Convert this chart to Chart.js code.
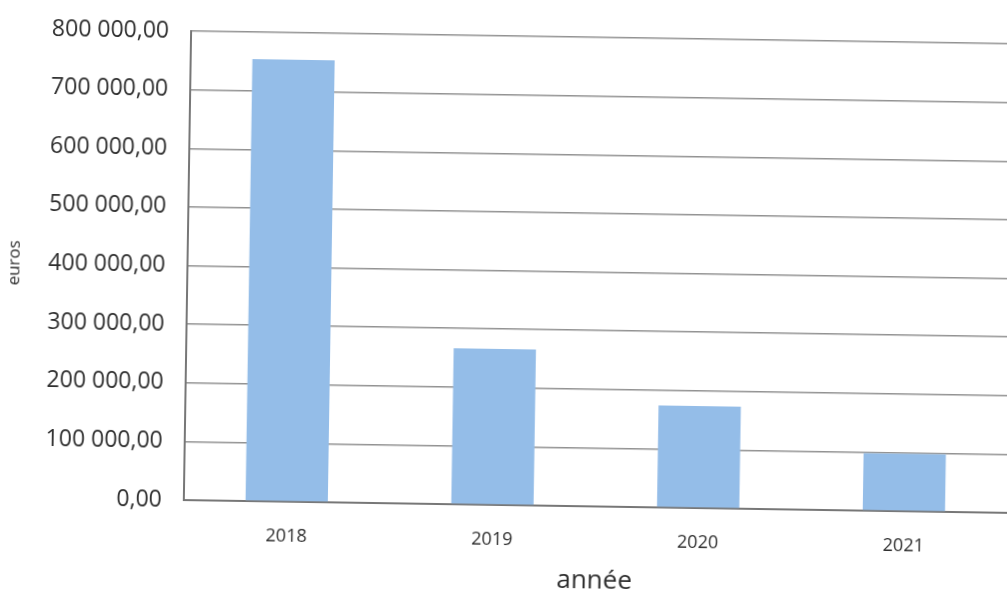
<!DOCTYPE html>
<html lang="fr">
<head>
<meta charset="utf-8">
<title>Montant par année</title>
<script src="https://cdn.jsdelivr.net/npm/chart.js@4.4.1/dist/chart.umd.min.js"></script>
<style>
  html, body {
    margin: 0;
    padding: 0;
    background: #ffffff;
    overflow: hidden;
    width: 1007px;
    height: 597px;
  }
  #wrap {
    position: absolute;
    left: 0;
    top: 0;
    width: 1040px;
    height: 597px;
    /* la feuille est légèrement de travers */
    transform: rotate(0.89deg);
    transform-origin: 503px 298px;
  }
</style>
</head>
<body>
<div id="wrap"><canvas id="graphique" width="1040" height="597"></canvas></div>
<script>
// données
const annees = ["2018", "2019", "2020", "2021"];
const montants = [754000, 266000, 174000, 98000];
const graduations = [0, 100000, 200000, 300000, 400000, 500000, 600000, 700000, 800000];

// 800000 -> "800 000,00"
function formatEuros(v) {
  const [ent, dec] = Number(v).toFixed(2).split(".");
  return ent.replace(/\B(?=(\d{3})+(?!\d))/g, " ") + "," + dec;
}

const ctx = document.getElementById("graphique").getContext("2d");

new Chart(ctx, {
  type: "bar",
  data: {
    labels: annees,
    datasets: [
      {
        label: "euros",
        data: montants,
        backgroundColor: "#94bde8",
        borderWidth: 0,
        barPercentage: 0.4,
        categoryPercentage: 1,
      },
    ],
  },
  options: {
    responsive: false,
    animation: false,
    layout: {
      padding: { left: 0, right: 30, top: 36, bottom: 0 },
    },
    plugins: {
      legend: { display: false },
      tooltip: { enabled: false },
    },
    scales: {
      x: {
        grid: { display: false, drawTicks: false },
        border: { display: true, color: "#777777", width: 2 },
        ticks: {
          color: "#2e2e2e",
          font: { family: "'Open Sans', sans-serif", size: 18 },
          padding: 24,
        },
        title: {
          display: true,
          text: "année",
          color: "#2e2e2e",
          font: { family: "'Open Sans', sans-serif", size: 26 },
          padding: { top: 0, bottom: 2 },
        },
        afterFit: (scale) => {
          scale.height = 92;
        },
      },
      y: {
        min: 0,
        max: 800000,
        afterBuildTicks: (scale) => {
          scale.ticks = graduations.map((v) => ({ value: v }));
        },
        grid: { color: "#929292", lineWidth: 1.5, drawTicks: false },
        border: { display: true, color: "#777777", width: 2 },
        ticks: {
          color: "#2e2e2e",
          font: { family: "'Open Sans', sans-serif", size: 23 },
          padding: 22,
          callback: (v) => formatEuros(v),
        },
        title: {
          display: true,
          text: "euros",
          color: "#2e2e2e",
          font: { family: "'Open Sans', sans-serif", size: 17 },
          padding: { top: 4, bottom: 0 },
        },
        afterFit: (scale) => {
          scale.width = 187;
        },
      },
    },
  },
});
</script>
</body>
</html>
